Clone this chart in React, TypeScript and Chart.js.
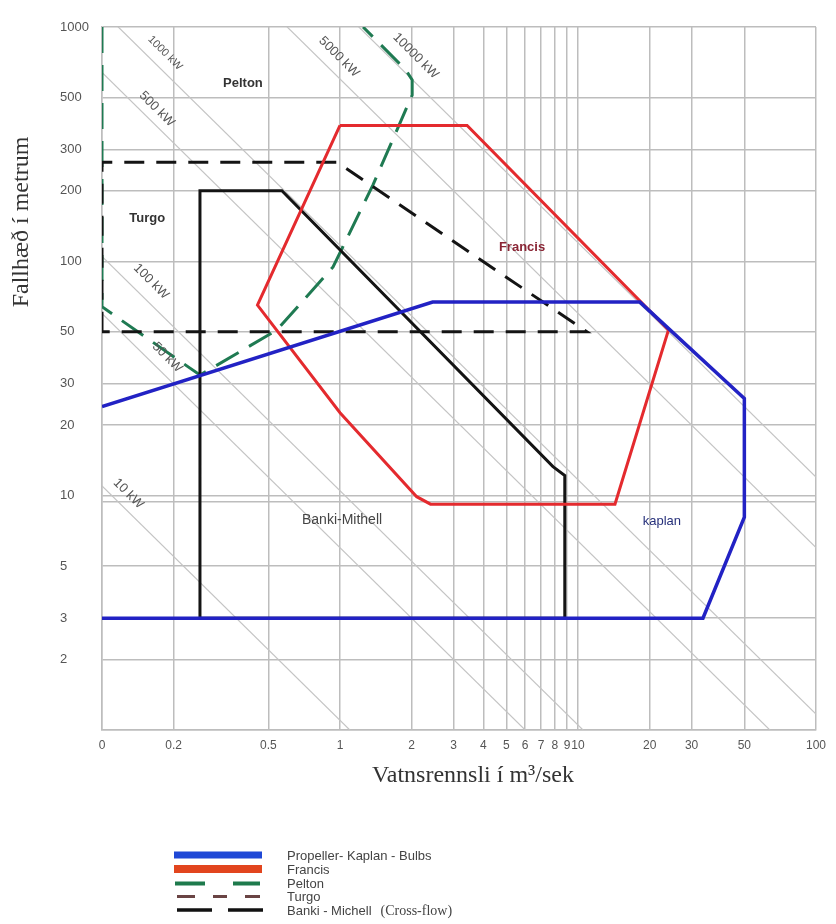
import React, { useEffect, useRef } from 'react';
import { Chart, registerables } from 'chart.js';

Chart.register(...registerables);

// ---- axes ----
const xTickValues = [0.1, 0.2, 0.5, 1, 2, 3, 4, 5, 6, 7, 8, 9, 10, 20, 30, 50, 100];
const xTickLabels = ['0', '0.2', '0.5', '1', '2', '3', '4', '5', '6', '7', '8', '9', '10', '20', '30', '50', '100'];
const yTickValues = [1, 2, 3, 5, 9.4, 10, 20, 30, 50, 100, 200, 300, 500, 1000];
const yTickLabels = ['', '2', '3', '5', '', '10', '20', '30', '50', '100', '200', '300', '500', '1000'];

// ---- turbine envelopes (Q in m3/s, H in m) ----
const kaplanQ = [0.1, 2.45, 18.2, 50, 50, 33.5, 0.1];
const kaplanH = [24, 67, 67, 26, 8.1, 3, 3];
const francisQ = [1.0, 3.42, 24, 14.3, 2.4, 2.1, 1.0, 0.45, 1.0];
const francisH = [380, 380, 51, 9.2, 9.2, 9.9, 22.6, 65, 380];
const bankiQ = [0.258, 0.258, 0.57, 7.85, 8.8, 8.8, 0.258];
const bankiH = [3, 200, 200, 13.3, 12.2, 3, 3];
const turgoQ = [0.1, 0.1, 0.97, 10.9, 0.1];
const turgoH = [50, 265, 265, 50, 50];
const peltonQ = [0.1, 0.1, 0.258, 0.543, 0.935, 1.376, 2.01, 2.01, 1.89, 1.25];
const peltonH = [1000, 64, 32.7, 50.9, 94.6, 212, 512, 594, 656, 1000];

// ---- constant power lines (Q*H product) ----
const powerLabels = ['10 kW', '50 kW', '100 kW', '500 kW', '1000 kW', '5000 kW', '10000 kW'];
const powerQH = [1.1, 6, 10.5, 64, 117, 600, 1200];
const powerLabelQ = [0.129, 0.188, 0.161, 0.17, 0.184, 0.99, 2.08];
const powerLabelH = [10.2, 38.9, 82, 446, 774, 745, 752];

// ---- region names ----
const regionNames = ['Pelton', 'Turgo', 'Francis', 'Banki-Mithell', 'kaplan'];
const regionQ = [0.391, 0.155, 5.82, 1.02, 22.5];
const regionH = [576, 153, 115, 7.9, 7.74];

// ---- legend ----
const legendLabels = ['Propeller- Kaplan - Bulbs', 'Francis', 'Pelton', 'Turgo', 'Banki - Michell'];

const SANS = '"Liberation Sans", Arial, sans-serif';
const SERIF = '"Liberation Serif", "Times New Roman", serif';

const regionStyles = [
  { font: `bold 13px ${SANS}`, color: '#333333' },
  { font: `bold 13px ${SANS}`, color: '#333333' },
  { font: `bold 13px ${SANS}`, color: '#8a2535' },
  { font: `14px ${SANS}`, color: '#444444' },
  { font: `13px ${SANS}`, color: '#26307a' },
];

const overlayPlugin = {
  id: 'overlay',
  afterDatasetsDraw(chart: any) {
    const ctx = chart.ctx as CanvasRenderingContext2D;
    const xs = chart.scales.x;
    const ys = chart.scales.y;
    ctx.save();
    ctx.textAlign = 'center';
    ctx.textBaseline = 'middle';
    powerLabels.forEach((t, i) => {
      const px = xs.getPixelForValue(powerLabelQ[i]);
      const py = ys.getPixelForValue(powerLabelH[i]);
      ctx.save();
      ctx.translate(px, py);
      ctx.rotate(Math.PI / 4);
      ctx.font = `${i === 4 ? 11 : 13}px ${SANS}`;
      ctx.fillStyle = '#555555';
      ctx.fillText(t, 0, 0);
      ctx.restore();
    });
    regionNames.forEach((t, i) => {
      const px = xs.getPixelForValue(regionQ[i]);
      const py = ys.getPixelForValue(regionH[i]);
      ctx.font = regionStyles[i].font;
      ctx.fillStyle = regionStyles[i].color;
      ctx.fillText(t, px, py);
    });
    ctx.restore();
  },
  afterDraw(chart: any) {
    const ctx = chart.ctx as CanvasRenderingContext2D;
    const area = chart.chartArea;
    ctx.save();
    // axis titles
    ctx.fillStyle = '#333333';
    ctx.font = `24px ${SERIF}`;
    ctx.textAlign = 'center';
    ctx.textBaseline = 'middle';
    ctx.fillText('Vatnsrennsli í m³/sek', (area.left + area.right) / 2 + 14, area.bottom + 46);
    ctx.save();
    ctx.translate(22, 222);
    ctx.rotate(-Math.PI / 2);
    ctx.fillText('Fallhæð í metrum', 0, 0);
    ctx.restore();

    // legend
    const lx0 = 174;
    const lx1 = 262;
    const rows = [855, 869, 883.5, 896.5, 910];
    ctx.lineCap = 'butt';
    ctx.strokeStyle = '#1f48d6';
    ctx.lineWidth = 7;
    ctx.beginPath(); ctx.moveTo(lx0, rows[0]); ctx.lineTo(lx1, rows[0]); ctx.stroke();
    ctx.strokeStyle = '#e2451e';
    ctx.lineWidth = 8;
    ctx.beginPath(); ctx.moveTo(lx0, rows[1]); ctx.lineTo(lx1, rows[1]); ctx.stroke();
    ctx.strokeStyle = '#1e7a4c';
    ctx.lineWidth = 4;
    ctx.beginPath();
    ctx.moveTo(175, rows[2]); ctx.lineTo(205, rows[2]);
    ctx.moveTo(233, rows[2]); ctx.lineTo(260, rows[2]);
    ctx.stroke();
    ctx.strokeStyle = '#6a4444';
    ctx.lineWidth = 3;
    ctx.beginPath();
    ctx.moveTo(177, rows[3]); ctx.lineTo(195, rows[3]);
    ctx.moveTo(213, rows[3]); ctx.lineTo(227, rows[3]);
    ctx.moveTo(245, rows[3]); ctx.lineTo(260, rows[3]);
    ctx.stroke();
    ctx.strokeStyle = '#111111';
    ctx.lineWidth = 3.5;
    ctx.beginPath();
    ctx.moveTo(177, rows[4]); ctx.lineTo(212, rows[4]);
    ctx.moveTo(228, rows[4]); ctx.lineTo(263, rows[4]);
    ctx.stroke();

    ctx.fillStyle = '#444444';
    ctx.textAlign = 'left';
    ctx.font = `13px ${SANS}`;
    legendLabels.forEach((t, i) => {
      ctx.fillText(t, 287, rows[i] + 1);
    });
    const w = ctx.measureText(legendLabels[4]).width;
    ctx.font = `14px ${SERIF}`;
    ctx.fillText('(Cross-flow)', 287 + w + 9, rows[4] + 1);
    ctx.restore();
  },
};

export default function App() {
  const ref = useRef<HTMLCanvasElement>(null);

  useEffect(() => {
    const canvas = ref.current;
    if (!canvas) return;
    const mk = (qs: number[], hs: number[]) => qs.map((q, i) => ({ x: q, y: hs[i] }));
    const base = { pointRadius: 0, pointHoverRadius: 0, fill: false, tension: 0, borderJoinStyle: 'miter' as const };
    const datasets: any[] = [
      { ...base, label: 'Propeller- Kaplan - Bulbs', data: mk(kaplanQ, kaplanH), borderColor: '#2222c4', borderWidth: 3.5, order: 1 },
      { ...base, label: 'Francis', data: mk(francisQ, francisH), borderColor: '#e42a2e', borderWidth: 3, order: 2 },
      { ...base, label: 'Banki - Michell', data: mk(bankiQ, bankiH), borderColor: '#141414', borderWidth: 3, order: 3 },
      { ...base, label: 'Turgo', data: mk(turgoQ, turgoH), borderColor: '#141414', borderWidth: 3, borderDash: [20, 12], order: 4 },
      { ...base, label: 'Pelton', data: mk(peltonQ, peltonH), borderColor: '#1f7a52', borderWidth: 3, borderDash: [26, 12], order: 5 },
      ...powerQH.map((c, i) => ({
        ...base,
        label: powerLabels[i],
        data: [{ x: 0.1, y: c / 0.1 }, { x: 100, y: c / 100 }],
        borderColor: '#c4c4c4',
        borderWidth: 1.2,
        order: 10,
      })),
    ];

    const xLabelMap = new Map(xTickValues.map((v, i) => [v, xTickLabels[i]]));
    const yLabelMap = new Map(yTickValues.map((v, i) => [v, yTickLabels[i]]));

    const chart = new Chart(canvas, {
      type: 'line',
      data: { datasets },
      plugins: [overlayPlugin],
      options: {
        responsive: false,
        animation: false,
        devicePixelRatio: 1,
        events: [],
        layout: { padding: { left: 60, right: 20, top: 27, bottom: 164 } },
        plugins: { legend: { display: false }, tooltip: { enabled: false } },
        scales: {
          x: {
            type: 'logarithmic',
            min: 0.1,
            max: 100,
            afterBuildTicks: (s: any) => { s.ticks = xTickValues.map((v) => ({ value: v })); },
            afterFit: (s: any) => { s.height = 30; },
            ticks: {
              autoSkip: false,
              maxRotation: 0,
              minRotation: 0,
              padding: 8,
              color: '#555555',
              font: { family: SANS, size: 12 },
              callback: (v: any) => xLabelMap.get(Number(v)) ?? '',
            },
            grid: { color: '#bdbdbd', lineWidth: 1.5, drawTicks: false },
            border: { display: true, color: '#bdbdbd', width: 1.5 },
          },
          y: {
            type: 'logarithmic',
            min: 1,
            max: 1000,
            afterBuildTicks: (s: any) => { s.ticks = yTickValues.map((v) => ({ value: v })); },
            afterFit: (s: any) => { s.width = 42; },
            ticks: {
              crossAlign: 'far',
              padding: 4,
              color: '#555555',
              font: { family: SANS, size: 13 },
              callback: (v: any) => yLabelMap.get(Number(v)) ?? '',
            },
            grid: { color: '#bdbdbd', lineWidth: 1.5, drawTicks: false },
            border: { display: true, color: '#bdbdbd', width: 1.5 },
          },
        },
      } as any,
    });
    return () => chart.destroy();
  }, []);

  return (
    <div style={{ position: 'absolute', left: 0, top: 0, width: 836, height: 924, background: '#ffffff' }}>
      <canvas ref={ref} width={836} height={924} style={{ display: 'block', width: 836, height: 924 }} />
    </div>
  );
}
